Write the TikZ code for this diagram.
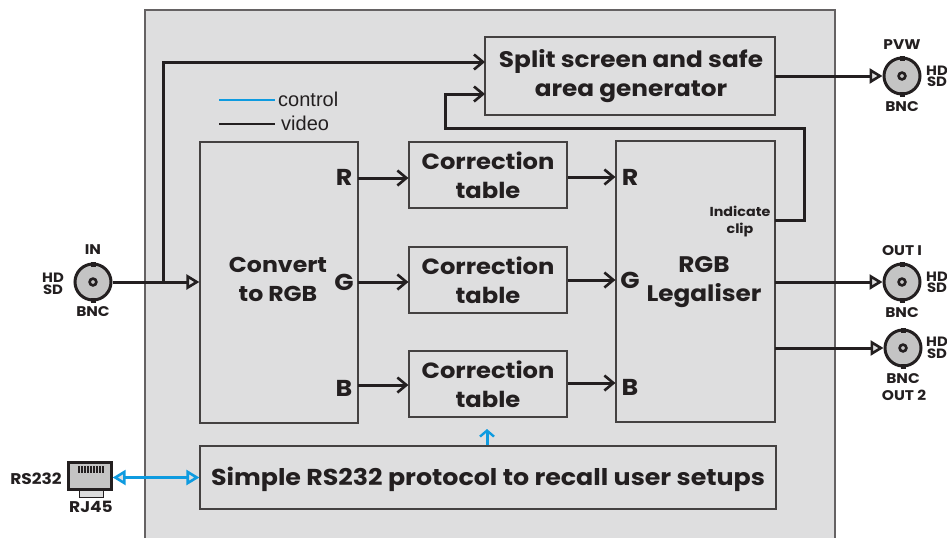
\documentclass[tikz,border=0pt]{standalone}
\usepackage{fontspec}
\setmainfont{Poppins}[FakeStretch=1.1]
\newfontfamily\legendfont{Liberation Sans}
\usetikzlibrary{arrows.meta}
\definecolor{panelgrey}{HTML}{DEDEDF}
\definecolor{inkblack}{HTML}{231F20}
\definecolor{ctrlblue}{HTML}{0E9BE0}
\definecolor{bncgrey}{HTML}{C4C4C4}
\tikzset{
    blockbox/.style={draw=inkblack!85, line width=1.2pt, inner sep=0pt},
    blocktext/.style={text=inkblack, inner sep=0pt, align=center, font=\bfseries\fontsize{22}{29}\selectfont},
    portlabel/.style={text=inkblack, inner sep=0pt, font=\bfseries\fontsize{23}{26}\selectfont},
    smalllabel/.style={text=inkblack, inner sep=0pt, align=center, font=\bfseries\fontsize{14}{12}\selectfont},
    hdsdlabel/.style={text=inkblack, inner sep=0pt, align=center, font=\bfseries\fontsize{13.5}{11.5}\selectfont},
    bnc/.style={circle, draw=inkblack, line width=3pt, fill=bncgrey, minimum size=36pt, inner sep=0pt},
    video/.style={draw=inkblack, line width=3pt, -{Straight Barb[length=9pt,width=15pt,line width=2.6pt]}},
    videotri/.style={draw=inkblack, line width=3pt, -{Triangle[open,length=13pt,width=15pt,line width=2.6pt,fill=panelgrey]}},
    control/.style={draw=ctrlblue, line width=3pt}
}
\begin{document}
\begin{tikzpicture}[x=1pt,y=-1pt]
    \useasboundingbox (0,0) rectangle (947,538);

    % panel
    \fill[panelgrey] (145,10) rectangle (835,538);
    \draw[inkblack!70, line width=1.4pt] (145,538) -- (145,10) -- (835,10) -- (835,538);

    % blocks
    \node[blockbox, minimum width=290pt, minimum height=78pt] (split) at (630,76) {};
    \node[blockbox, minimum width=158pt, minimum height=281pt] (convert) at (279,282.5) {};
    \node[blockbox, minimum width=158pt, minimum height=66pt] (corrR) at (488,175) {};
    \node[blockbox, minimum width=158pt, minimum height=66pt] (corrG) at (488,280) {};
    \node[blockbox, minimum width=158pt, minimum height=66pt] (corrB) at (488,384) {};
    \node[blockbox, minimum width=159pt, minimum height=281pt] (legal) at (695.5,281.5) {};
    \node[blockbox, minimum width=576pt, minimum height=63pt] (proto) at (488,477.5) {};

    \node[blocktext, font=\bfseries\fontsize{22.5}{29}\selectfont] (splitname) at (631,76.5) {Split screen and safe\\area generator};
    \node[blocktext] (corrRname) at (488,175) {Correction\\table};
    \node[blocktext] (corrGname) at (488,280) {Correction\\table};
    \node[blocktext] (corrBname) at (488,384) {Correction\\table};
    \node[blocktext, font=\bfseries\fontsize{23}{29}\selectfont] (protoname) at (488,479) {Simple RS232 protocol to recall user setups};
    \node[blocktext, font=\bfseries\fontsize{21.5}{29}\selectfont] (convertname) at (278,279) {Convert\\to RGB};
    \node[blocktext, font=\bfseries\fontsize{22.5}{29}\selectfont] (legalname) at (704,282) {RGB\\Legaliser};
    \node[portlabel] (inR) at (344,177) {R};
    \node[portlabel] (inG) at (344,282) {G};
    \node[portlabel] (inB) at (344,388) {B};
    \node[portlabel] (outR) at (630,177) {R};
    \node[portlabel] (outG) at (630,280) {G};
    \node[portlabel] (outB) at (630,387) {B};
    \node[smalllabel, font=\bfseries\fontsize{13}{17}\selectfont] (clip) at (740,222) {Indicate\\clip};

    % legend
    \coordinate (ctrlA) at (219,100);
    \coordinate (ctrlB) at (275,100);
    \coordinate (vidA) at (219,124);
    \coordinate (vidB) at (275,124);
    \draw[ctrlblue, line width=2.4pt] (ctrlA) -- (ctrlB);
    \draw[inkblack, line width=2.4pt] (vidA) -- (vidB);
    \node[anchor=west, inner sep=0pt, text=inkblack, font=\legendfont\fontsize{20}{24}\selectfont] (ctrltext) at (278,99) {control};
    \node[anchor=west, inner sep=0pt, text=inkblack, font=\legendfont\fontsize{20}{24}\selectfont] (vidtext) at (281,123) {video};

    % connectors inside
    \coordinate (tap) at (163,282);
    \coordinate (splitA) at (485,62);
    \coordinate (splitB) at (485,94);
    \coordinate (clipA) at (775,220);
    \coordinate (fbA) at (804,220);
    \coordinate (fbB) at (804,128);
    \coordinate (fbC) at (445,128);
    \coordinate (fbD) at (445,94);
    \coordinate (topA) at (163,62);
    \coordinate (legG) at (775,282);
    \coordinate (legB) at (775,348);
    \coordinate (pvwA) at (775,76);
    \coordinate (upA) at (487,445);
    \coordinate (upB) at (487,429);

    \draw[video] (358,178) -- (corrR.west |- 0,178);
    \draw[video] (358,282) -- (corrG.west |- 0,282);
    \draw[video] (358,385) -- (corrB.west |- 0,385);
    \draw[video] (corrR.east |- 0,177) -- (legal.west |- 0,177);
    \draw[video] (corrG.east |- 0,280) -- (legal.west |- 0,280);
    \draw[video] (corrB.east |- 0,383) -- (legal.west |- 0,383);
    \draw[video] (tap) -- (topA) -- (splitA);
    \draw[video] (clipA) -- (fbA) -- (fbB) -- (fbC) -- (fbD) -- (splitB);

    % connectors
    \node[bnc] (bncin) at (93,282) {};
    \node[bnc] (bncpvw) at (902,76) {};
    \node[bnc] (bncone) at (902,282) {};
    \node[bnc] (bnctwo) at (903,348) {};
    \draw[videotri] (bncin) -- (convert.west |- bncin);
    \draw[videotri] (pvwA) -- (bncpvw);
    \draw[videotri] (legG) -- (bncone);
    \draw[videotri] (legB) -- (bnctwo);

    % bnc pins
    \foreach \c in {bncin,bncpvw,bncone,bnctwo}{
        \fill[inkblack] ([xshift=-2.5pt,yshift=-4pt]\c.north) rectangle ([xshift=2.5pt,yshift=1pt]\c.north);
        \fill[inkblack] ([xshift=-2.5pt,yshift=4pt]\c.south) rectangle ([xshift=2.5pt,yshift=-1pt]\c.south);
        \draw[inkblack, line width=2.6pt, fill=bncgrey] (\c.center) circle (3.4pt);
    }

    % bnc labels
    \node[smalllabel] (inname) at (93,250) {IN};
    \node[smalllabel] (inbnc) at (93,312) {BNC};
    \node[hdsdlabel] (inhd) at (53,284) {HD\\SD};
    \node[smalllabel] (pvwname) at (902,45) {PVW};
    \node[smalllabel] (pvwbnc) at (902,107) {BNC};
    \node[hdsdlabel, anchor=west] (pvwhd) at (926,76.5) {HD\\SD};
    \node[smalllabel] (onename) at (902,251) {OUT I};
    \node[smalllabel] (onebnc) at (902,313) {BNC};
    \node[hdsdlabel, anchor=west] (onehd) at (926,282.5) {HD\\SD};
    \node[smalllabel] (twobnc) at (903,379) {BNC};
    \node[smalllabel] (twoname) at (904,395) {OUT 2};
    \node[hdsdlabel, anchor=west] (twohd) at (926,348) {HD\\SD};

    % rj45
    \node[draw=inkblack, line width=1pt, fill=bncgrey!60, minimum width=24pt, minimum height=8pt, inner sep=0pt] (rjtab) at (91,493.5) {};
    \node[draw=inkblack, line width=2.4pt, fill=bncgrey, minimum width=43pt, minimum height=27pt, inner sep=0pt] (rjbody) at (90,476) {};
    \foreach \x in {78,81,...,102}{
        \fill[inkblack] (\x,466) rectangle (\x+1.8,472.5);
    }
    \node[smalllabel, font=\bfseries\fontsize{15.5}{12}\selectfont] (rsname) at (36,479) {RS232};
    \node[smalllabel, font=\bfseries\fontsize{15.5}{12}\selectfont] (rjname) at (91,507) {RJ45};

    % control
    \draw[control, {Triangle[open,length=13pt,width=15pt,line width=2.6pt,fill=panelgrey]}-{Triangle[open,length=13pt,width=15pt,line width=2.6pt,fill=panelgrey]}] (rjbody.east |- proto) -- (proto.west);
    \draw[control, -{Straight Barb[length=6pt,width=14pt,line width=2.4pt]}] (upA) -- (upB);
\end{tikzpicture}
\end{document}
